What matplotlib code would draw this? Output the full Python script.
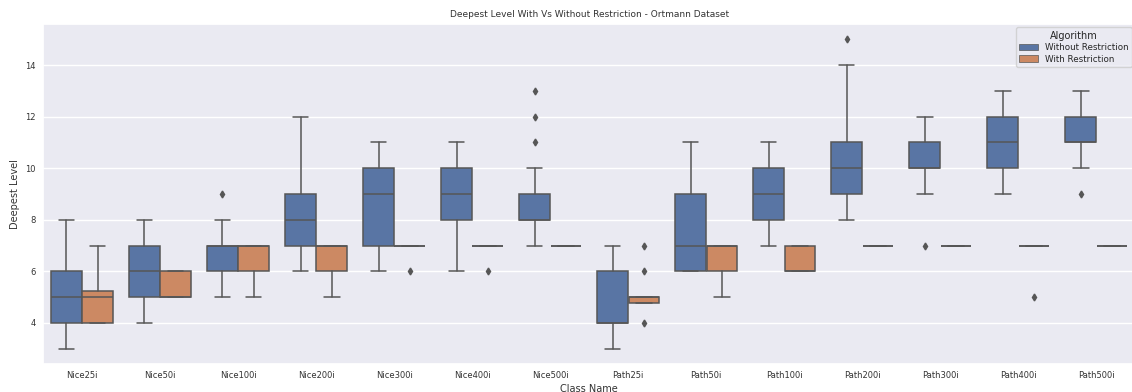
import matplotlib
matplotlib.use("Agg")
import matplotlib.pyplot as plt
import matplotlib.patches as mpatches
import seaborn as sns

# box stats: (whislo, q1, med, q3, whishi)
classes = ["Nice25i", "Nice50i", "Nice100i", "Nice200i", "Nice300i", "Nice400i", "Nice500i",
           "Path25i", "Path50i", "Path100i", "Path200i", "Path300i", "Path400i", "Path500i"]

without_stats = [
    (3, 4, 5, 6, 8), (4, 5, 6, 7, 8), (5, 6, 7, 7, 8), (6, 7, 8, 9, 12),
    (6, 7, 9, 10, 11), (6, 8, 9, 10, 11), (7, 8, 8, 9, 10),
    (3, 4, 4, 6, 7), (6, 6, 7, 9, 11), (7, 8, 9, 10, 11), (8, 9, 10, 11, 14),
    (9, 10, 10, 11, 12), (9, 10, 11, 12, 13), (10, 11, 11, 12, 13),
]
without_fliers = [[], [], [9], [], [], [], [11, 12, 13],
                  [], [], [], [15], [7], [], [9]]

with_stats = [
    (4, 4, 5, 5.25, 7), (5, 5, 5, 6, 6), (5, 6, 7, 7, 7), (5, 6, 7, 7, 7),
    (7, 7, 7, 7, 7), (7, 7, 7, 7, 7), (7, 7, 7, 7, 7),
    (4.75, 4.75, 5, 5, 5), (5, 6, 7, 7, 7), (6, 6, 6, 7, 7), (7, 7, 7, 7, 7),
    (7, 7, 7, 7, 7), (7, 7, 7, 7, 7), (7, 7, 7, 7, 7),
]
with_fliers = [[], [], [], [], [6], [6], [],
               [4, 6, 7], [], [], [], [], [5], []]

hue_labels = ["Without Restriction", "With Restriction"]

sns.set_theme(style="darkgrid")
plt.rcParams["font.family"] = ["DejaVu Sans"]

colors = [sns.desaturate(c, 0.75) for c in sns.color_palette("deep")[:2]]
line_gray = "#565656"
lw = 1.1


def to_bxp(stats, fliers):
    out = []
    for (lo, q1, med, q3, hi), fl in zip(stats, fliers):
        out.append(dict(whislo=lo, q1=q1, med=med, q3=q3, whishi=hi, fliers=fl))
    return out


fig = plt.figure(figsize=(11.32, 3.92), dpi=100)
ax = fig.add_axes([0.038, 0.0714, 0.965, 0.8674])

n = len(classes)
width = 0.4
for k, (stats, fliers) in enumerate([(without_stats, without_fliers), (with_stats, with_fliers)]):
    offset = -0.2 if k == 0 else 0.2
    positions = [i + offset for i in range(n)]
    ax.bxp(
        to_bxp(stats, fliers),
        positions=positions,
        widths=width * 0.98,
        capwidths=width / 2,
        patch_artist=True,
        showfliers=True,
        boxprops=dict(facecolor=colors[k], edgecolor=line_gray, linewidth=lw),
        medianprops=dict(color=line_gray, linewidth=lw),
        whiskerprops=dict(color=line_gray, linewidth=lw),
        capprops=dict(color=line_gray, linewidth=lw),
        flierprops=dict(marker="d", markerfacecolor=line_gray, markeredgecolor=line_gray,
                        markersize=3.5, linestyle="none"),
        manage_ticks=False,
    )

ax.set_xlim(-0.5, n - 0.5)
ax.set_ylim(2.4, 15.6)
ax.set_xticks(range(n))
ax.set_xticklabels(classes)
ax.set_yticks([4, 6, 8, 10, 12, 14])
ax.xaxis.grid(False)
ax.yaxis.grid(True, color="white", linewidth=1)
ax.tick_params(axis="both", labelsize=6, colors=".2", length=0, pad=5)

ax.set_xlabel("Class Name", fontsize=7, color=".2", labelpad=3)
ax.set_ylabel("Deepest Level", fontsize=7, color=".2", labelpad=4)
ax.set_title("Deepest Level With Vs Without Restriction - Ortmann Dataset", fontsize=6.5,
             color=".2", pad=5)

handles = [mpatches.Patch(facecolor=colors[k], edgecolor=line_gray, linewidth=0.5,
                          label=hue_labels[k]) for k in range(2)]
leg = ax.legend(handles=handles, title="Algorithm", loc="upper right", fontsize=6.3,
                title_fontsize=7, borderaxespad=0.4, handlelength=2.2,
                handleheight=0.8, labelspacing=0.3, borderpad=0.35)

fig.savefig("out.png", dpi=100)
